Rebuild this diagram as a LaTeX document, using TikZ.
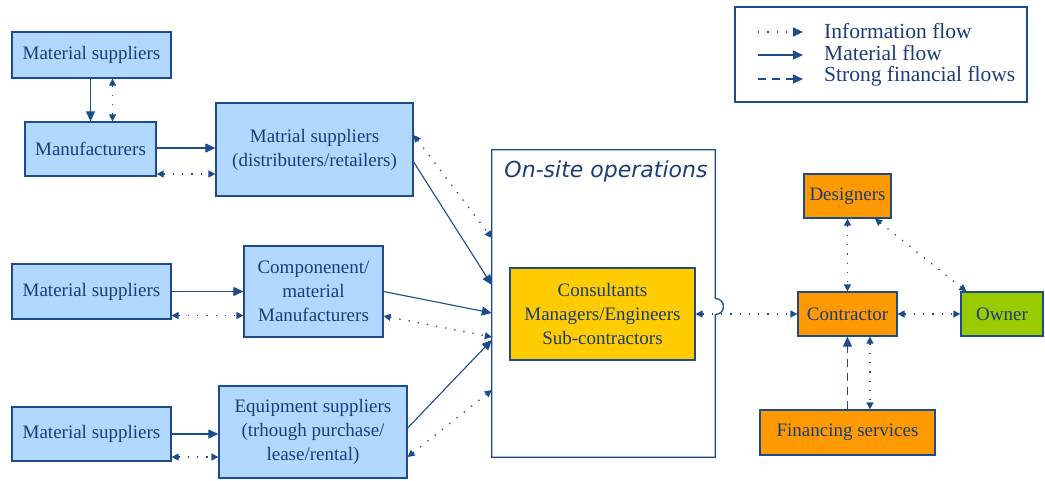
\documentclass[tikz,border=0pt]{standalone}
\usepackage{fontspec}
\setmainfont{Liberation Serif}
\newfontfamily\sitefont{DejaVu Sans}
\usepackage{tikz}
\usetikzlibrary{arrows,arrows.meta,shapes,positioning,calc}

\definecolor{navy}{HTML}{1E4C8A}
\definecolor{inktext}{HTML}{1B3C78}
\definecolor{paleblue}{HTML}{B3D8FF}
\definecolor{goldbox}{HTML}{FFCC00}
\definecolor{orangebox}{HTML}{FF9900}
\definecolor{greenbox}{HTML}{99CC00}

\tikzset{
  box/.style={draw=navy, line width=1.3pt, text=inktext, align=center,
    font=\fontsize{19}{24}\selectfont, inner sep=0pt},
  supbox/.style={box, fill=paleblue},
  orbox/.style={box, fill=orangebox},
  matl/.style={draw=navy, line width=1.1pt, -{Triangle[length=10pt,width=9pt]}},
  info/.style={draw=navy, line width=1.3pt, dash pattern=on 1.3pt off 8pt,
    {Triangle[length=7pt,width=7pt]}-{Triangle[length=7pt,width=7pt]}},
  finflow/.style={draw=navy, line width=1.1pt, dash pattern=on 8pt off 6pt,
    -{Triangle[length=10pt,width=9pt]}},
}

\begin{document}
\begin{tikzpicture}[x=1pt, y=-1pt]
  \useasboundingbox (0,0) rectangle (1045,480);

  % left column suppliers
  \node[supbox, minimum width=159pt, minimum height=46pt] (ms1) at (91.5,55) {Material suppliers};
  \node[supbox, minimum width=131pt, minimum height=54pt] (manu) at (90.5,149) {Manufacturers};
  \node[supbox, minimum width=197pt, minimum height=93pt] (dist) at (314.5,149.5) {Matrial suppliers\\(distributers/retailers)};
  \node[supbox, minimum width=159pt, minimum height=55pt] (ms2) at (91.5,291.5) {Material suppliers};
  \node[supbox, minimum width=139pt, minimum height=91pt] (comp) at (313.5,291.5) {Componenent/\\material\\Manufacturers};
  \node[supbox, minimum width=159pt, minimum height=54pt] (ms3) at (91.5,434) {Material suppliers};
  \node[supbox, minimum width=188pt, minimum height=92pt] (equip) at (313,432) {Equipment suppliers\\(trhough purchase/\\lease/rental)};

  % on-site operations
  \node[minimum width=223pt, minimum height=307pt, inner sep=0pt] (site) at (603.5,303.5) {};
  \draw[navy, line width=1.3pt] (site.north east) -- (site.north west) -- (site.south west) -- (site.south east)
    -- ([yshift=-11pt]site.east) .. controls ([xshift=11pt,yshift=-11pt]site.east) and ([xshift=11pt,yshift=5pt]site.east) .. ([yshift=5pt]site.east)
    -- cycle;
  \node[text=inktext, font=\sitefont\itshape\fontsize{22}{26}\selectfont] (sitetitle) at (606,171) {On-site operations};
  \node[box, fill=goldbox, minimum width=185pt, minimum height=92pt] (cons) at (602.5,314) {Consultants\\Managers/Engineers\\Sub-contractors};

  % right side
  \node[orbox, minimum width=87pt, minimum height=44pt] (des) at (847.5,196) {Designers};
  \node[orbox, minimum width=99pt, minimum height=44pt] (contr) at (847.5,314) {Contractor};
  \node[box, fill=greenbox, minimum width=82pt, minimum height=44pt] (owner) at (1002,314) {Owner};
  \node[orbox, minimum width=175pt, minimum height=45pt] (fin) at (847.5,432.5) {Financing services};

  % flows on the left
  \draw[matl] (manu.north |- ms1.south) -- (manu.north);
  \draw[info] ([xshift=22pt]manu.north) -- ([xshift=22pt]manu.north |- ms1.south);
  \draw[matl] ([yshift=1pt]manu.east) -- ([yshift=1pt]manu.east -| dist.west);
  \draw[info] ([yshift=-25pt]manu.east) -- ([yshift=-25pt]manu.east -| dist.west);
  \draw[matl] (ms2.east) -- (ms2.east -| comp.west);
  \draw[info] ([yshift=-24pt]ms2.east) -- ([yshift=-24pt]ms2.east -| comp.west);
  \draw[matl] (ms3.east) -- (ms3.east -| equip.west);
  \draw[info] ([yshift=-23pt]ms3.east) -- ([yshift=-23pt]ms3.east -| equip.west);

  % flows into the site
  \draw[matl] ([yshift=-12.5pt]dist.east) -- ([yshift=18.5pt]site.west);
  \draw[info] ([yshift=14.5pt]dist.east) -- ([yshift=65.5pt]site.west);
  \draw[matl] (comp.east) -- ([yshift=-9.5pt]site.west);
  \draw[info] ([yshift=-24.5pt]comp.east) -- ([yshift=-33.5pt]site.west);
  \draw[matl] ([yshift=4pt]equip.east) -- ([yshift=-36.5pt]site.west);
  \draw[info] ([yshift=-25pt]equip.east) -- ([yshift=-86.5pt]site.west);

  % flows on the right
  \draw[info] (cons.east) -- (contr.west);
  \draw[info] (des.south) -- (contr.north);
  \draw[info] ([xshift=27.5pt]des.south) -- ([xshift=6pt]owner.north west);
  \draw[info] (contr.east) -- (owner.west);
  \draw[finflow] (fin.north) -- (contr.south);
  \draw[info] ([xshift=22.5pt]contr.south) -- ([xshift=22.5pt]fin.north);

  % legend
  \node[draw=navy, line width=1.3pt, minimum width=292pt, minimum height=95pt] (leg) at (881,54.5) {};
  \coordinate (l1a) at (758,32);  \coordinate (l1b) at (803,32);
  \coordinate (l2a) at (758,55);  \coordinate (l2b) at (803,55);
  \coordinate (l3a) at (758,79);  \coordinate (l3b) at (803,79);
  \draw[draw=navy, line width=1.3pt, dash pattern=on 1.3pt off 8pt, -{Triangle[length=10pt,width=9pt]}] (l1a) -- (l1b);
  \draw[matl] (l2a) -- (l2b);
  \draw[finflow] (l3a) -- (l3b);
  \node[anchor=west, text=inktext, font=\fontsize{21.5}{23}\selectfont, inner sep=0pt] (leginfo) at (824,31) {Information flow};
  \node[anchor=west, text=inktext, font=\fontsize{21.5}{23}\selectfont, inner sep=0pt] (legmatl) at (824,53) {Material flow};
  \node[anchor=west, text=inktext, font=\fontsize{21.5}{23}\selectfont, inner sep=0pt] (legfin) at (824,76) {Strong financial flows};
\end{tikzpicture}
\end{document}
